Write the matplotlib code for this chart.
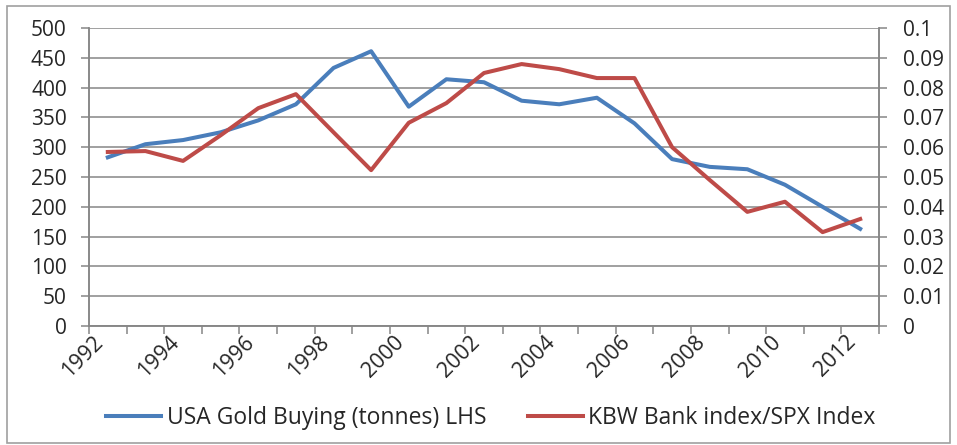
import matplotlib
matplotlib.use("Agg")
import matplotlib.pyplot as plt
import matplotlib.transforms as mtransforms
from matplotlib.patches import Rectangle
import numpy as np

years = list(range(1992, 2013))
gold_tonnes = [283, 305, 312, 325, 345, 372, 433, 461, 368, 414, 409,
               378, 372, 383, 340, 280, 267, 263, 237, 200, 163]
kbw_spx = [0.0584, 0.0587, 0.0554, 0.064, 0.0731, 0.0778, 0.065, 0.0523,
           0.0682, 0.0748, 0.0849, 0.0879, 0.0862, 0.0832, 0.0832, 0.060,
           0.049, 0.0383, 0.0417, 0.0315, 0.0359]
left_ticks = list(range(0, 501, 50))
right_ticks = [0, 0.01, 0.02, 0.03, 0.04, 0.05, 0.06, 0.07, 0.08, 0.09, 0.1]
right_labels = ["0", "0.01", "0.02", "0.03", "0.04", "0.05", "0.06",
                "0.07", "0.08", "0.09", "0.1"]

plt.rcParams['font.family'] = ['Open Sans', 'DejaVu Sans']
blue = '#4a7ebb'
red = '#be4b48'
gray = '#868686'
txt = '#262626'
fs = 15

fig = plt.figure(figsize=(9.57, 4.45), dpi=100)
fig.patches.append(Rectangle((7 / 957, 2 / 445), 943 / 957, 437 / 445,
                             transform=fig.transFigure, fill=False,
                             edgecolor='#a0a0a0', linewidth=1.2))
ax = fig.add_axes([89 / 957, 1 - 326 / 445, 790 / 957, 298 / 445])
ax2 = ax.twinx()

x = np.arange(len(years))
l1, = ax.plot(x, gold_tonnes, color=blue, linewidth=2.9,
              label='USA Gold Buying (tonnes) LHS')
l2, = ax2.plot(x, kbw_spx, color=red, linewidth=2.9,
               label='KBW Bank index/SPX Index')

ax.set_xlim(-0.5, len(years) - 0.5)
ax.set_ylim(0, 500)
ax2.set_ylim(0, 0.1)

ax.set_yticks(left_ticks)
ax.set_yticklabels([str(v) for v in left_ticks])
ax2.set_yticks(right_ticks)
ax2.set_yticklabels(right_labels)
ax.grid(axis='y', color=gray, linewidth=1.1)
ax.set_axisbelow(True)

# tick marks between categories, labels on every other year
ax.set_xticks(np.arange(-0.5, len(years), 1.0))
ax.set_xticklabels([])
ax.set_xticks(x[::2], minor=True)
ax.set_xticklabels([str(y) for y in years[::2]], minor=True, rotation=45,
                   ha='right', va='top', fontsize=15.5, color=txt)
off = mtransforms.ScaledTranslation(8 / 100, 0, fig.dpi_scale_trans)
for lab in ax.get_xticklabels(minor=True):
    lab.set_transform(lab.get_transform() + off)
ax.tick_params(axis='x', which='major', length=6, color=gray, width=1.1)
ax.tick_params(axis='x', which='minor', length=0, pad=4)
ax.tick_params(axis='y', length=6, color=gray, width=1.1, pad=10,
               labelsize=fs, labelcolor=txt)
ax2.tick_params(axis='y', length=6, color=gray, width=1.1, pad=11,
                labelsize=fs, labelcolor=txt)

for a in (ax, ax2):
    a.spines['top'].set_visible(False)
    for s in ('left', 'right', 'bottom'):
        a.spines[s].set_color(gray)
        a.spines[s].set_linewidth(1.1)

fig.legend(handles=[l1, l2], loc='center', bbox_to_anchor=(491 / 957, 1 - 418 / 445),
           ncol=2, frameon=False, fontsize=16.5, handlelength=2.4,
           columnspacing=1.8, handletextpad=0.25, labelcolor=txt)

fig.savefig('out.png', dpi=100)
